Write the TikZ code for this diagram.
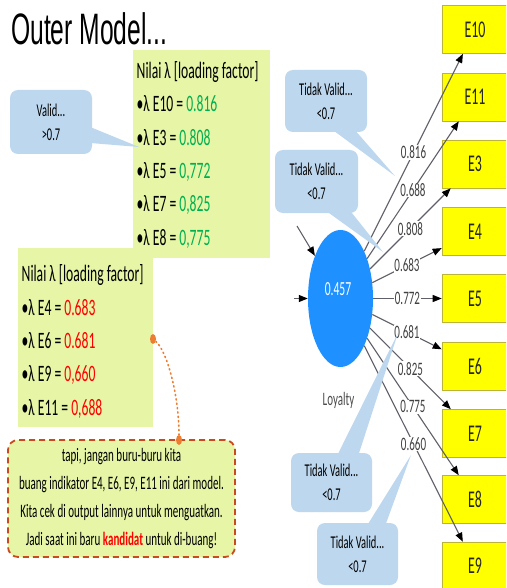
\documentclass[tikz,border=0pt]{standalone}
\usepackage{fontspec}
\setmainfont[FakeStretch=0.58]{Carlito}
\newfontfamily\titlefont[FakeStretch=0.56]{Liberation Sans}
\usetikzlibrary{arrows.meta,shapes.geometric,calc}

\definecolor{notegreen}{RGB}{230,246,166}
\definecolor{callblue}{RGB}{189,215,238}
\definecolor{okgreen}{RGB}{0,176,80}
\definecolor{badred}{RGB}{255,0,0}
\definecolor{lvblue}{RGB}{30,144,255}
\definecolor{indyellow}{RGB}{255,255,0}
\definecolor{dashred}{RGB}{200,75,30}
\definecolor{dotorange}{RGB}{237,125,49}
\definecolor{pathgray}{RGB}{95,95,105}

\tikzset{
  listline/.style={anchor=base west, inner sep=0pt, font=\fontsize{23.5}{28}\selectfont},
  callout/.style={fill=callblue, rounded corners=8pt, inner sep=0pt, align=center,
    font=\fontsize{18}{24}\selectfont},
  indbox/.style={rectangle, fill=indyellow, draw=yellow!70!black, line width=0.6pt,
    minimum width=66pt, minimum height=48pt, inner sep=0pt, text=black!85,
    font=\fontsize{24}{24}\selectfont},
  loading/.style={-{Triangle[length=9pt,width=7pt,color=black]}, draw=pathgray, line width=1.1pt},
  loadlab/.style={midway, fill=white, inner sep=0.6pt, text=black!75,
    font=\fontsize{19}{19}\selectfont},
  dotend/.style={ellipse, fill=dotorange, minimum width=6pt, minimum height=10pt, inner sep=0pt},
}

\begin{document}
\begin{tikzpicture}[x=1pt,y=-1pt]
\useasboundingbox (0,0) rectangle (506,588);
\clip (0,0) rectangle (506,588);

% title
\node[anchor=base west, inner sep=0pt, font=\titlefont\fontsize{44}{44}\selectfont] (title) at (11,45) {Outer Model...};

% note panels
\fill[notegreen] (133,50) rectangle (270,258);
\fill[notegreen] (18,248) rectangle (153,427);

% valid loadings
\node[listline] (h1) at (136.5,78.5) {Nilai λ [loading factor]};
\node[listline] (a1) at (136.5,111.8) {•λ E10 = \textcolor{okgreen}{0.816}};
\node[listline] (a2) at (136.5,145.1) {•λ E3 = \textcolor{okgreen}{0.808}};
\node[listline] (a3) at (136.5,178.4) {•λ E5 = \textcolor{okgreen}{0,772}};
\node[listline] (a4) at (136.5,211.7) {•λ E7 = \textcolor{okgreen}{0,825}};
\node[listline] (a5) at (136.5,245.0) {•λ E8 = \textcolor{okgreen}{0,775}};

% weak loadings
\node[listline] (h2) at (21.5,281.7) {Nilai λ [loading factor]};
\node[listline] (b1) at (21.5,315.0) {•λ E4 = \textcolor{badred}{0.683}};
\node[listline] (b2) at (21.5,348.3) {•λ E6 = \textcolor{badred}{0.681}};
\node[listline] (b3) at (21.5,381.6) {•λ E9 = \textcolor{badred}{0,660}};
\node[listline] (b4) at (21.5,415.0) {•λ E11 = \textcolor{badred}{0,688}};

% remark box
\node[rectangle, rounded corners=10pt, fill=notegreen, draw=dashred, line width=1.8pt,
      dash pattern=on 6pt off 4pt, minimum width=227pt, minimum height=117pt,
      inner sep=0pt, align=center, font=\fontsize{19}{28.3}\selectfont] (note) at (121.5,498.5)
  {tapi, jangan buru-buru kita\\
   buang indikator E4, E6, E9, E11 ini dari model.\\
   Kita cek di output lainnya untuk menguatkan.\\
   Jadi saat ini baru \textcolor{badred}{\textbf{kandidat}} untuk di-buang!};

% dotted link between the list and the remark
\node[dotend] (d1) at (153,339) {};
\node[dotend] (d2) at (179,440) {};
\draw[dotorange, line width=1.6pt, dash pattern=on 1.2pt off 3.2pt, line cap=round]
  (d1) .. controls +(14,12) and +(0,-45) .. (d2);

% latent variable
\node[ellipse, fill=lvblue, minimum width=65pt, minimum height=137pt, inner sep=0pt] (lv) at (340.5,298.5) {};
\node[text=white, inner sep=0pt, font=\fontsize{20}{20}\selectfont] (lvval) at (338,289) {0.457};
\node[text=black!70, inner sep=0pt, font=\fontsize{19}{19}\selectfont] (lvname) at (338.5,400) {Loyalty};

% incoming paths
\coordinate (in1) at (297,226);
\coordinate (in2) at (294,298.5);
\draw[loading] (in1) -- (lv);
\draw[loading] (in2) -- (lv);

% indicators
\node[indbox] (e10) at (475,29.5) {E10};
\node[indbox] (e11) at (475,97) {E11};
\node[indbox] (e3) at (475,164) {E3};
\node[indbox] (e4) at (475,231.5) {E4};
\node[indbox] (e5) at (475,298.5) {E5};
\node[indbox] (e6) at (475,366) {E6};
\node[indbox] (e7) at (475,433.5) {E7};
\node[indbox] (e8) at (475,499.5) {E8};
\node[indbox] (e9) at (475,566) {E9};

% outer loadings
\draw[loading] (lv) -- node[loadlab] {0.816} (e10);
\draw[loading] (lv) -- node[loadlab] {0.688} (e11);
\draw[loading] (lv) -- node[loadlab] {0.808} (e3);
\draw[loading] (lv) -- node[loadlab] {0.683} (e4);
\draw[loading] (lv) -- node[loadlab] {0.772} (e5);
\draw[loading] (lv) -- node[loadlab] {0.681} (e6);
\draw[loading] (lv) -- node[loadlab] {0.825} (e7);
\draw[loading] (lv) -- node[loadlab] {0.775} (e8);
\draw[loading] (lv) -- node[loadlab] {0.660} (e9);

% callouts
\node[callout, minimum width=82pt, minimum height=64pt] (valid) at (51,122) {Valid...\\>0.7};
\coordinate (vtip) at (139,147);
\fill[callblue] ($(valid.east)+(-2,5)$) -- (vtip) -- ($(valid.east)+(-2,21)$) -- cycle;

\node[callout, minimum width=82pt, minimum height=62pt] (tv1) at (326,101) {Tidak Valid...\\<0.7};
\coordinate (t1tip) at (395,176);
\fill[callblue] ($(tv1.south)+(7,-2)$) -- (t1tip) -- ($(tv1.south)+(29,-2)$) -- cycle;

\node[callout, minimum width=83pt, minimum height=63pt] (tv2) at (316.5,181.5) {Tidak Valid...\\<0.7};
\coordinate (t2tip) at (383,252);
\fill[callblue] ($(tv2.south)+(10,-2)$) -- (t2tip) -- ($(tv2.south)+(34,-2)$) -- cycle;

\node[callout, minimum width=81pt, minimum height=59pt] (tv3) at (331.5,482.5) {Tidak Valid...\\<0.7};
\coordinate (t3tip) at (398,333);
\fill[callblue] ($(tv3.north)+(6,2)$) -- (t3tip) -- ($(tv3.north)+(27,2)$) -- cycle;

\node[callout, minimum width=81pt, minimum height=62pt] (tv4) at (357.5,554) {Tidak Valid...\\<0.7};
\coordinate (t4tip) at (411,455);
\fill[callblue] ($(tv4.north)+(10,2)$) -- (t4tip) -- ($(tv4.north)+(28,2)$) -- cycle;
\end{tikzpicture}
\end{document}
